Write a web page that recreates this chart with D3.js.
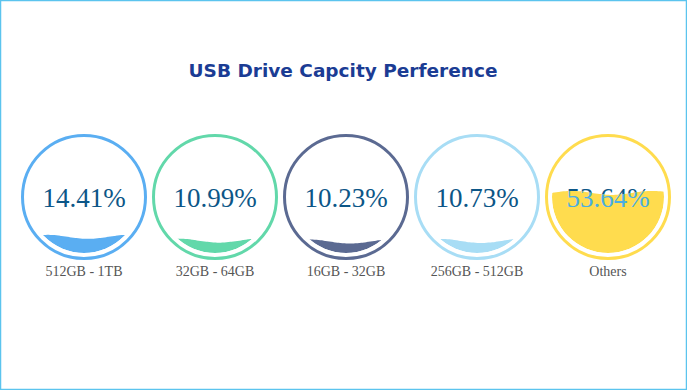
<!DOCTYPE html>
<html>
<head>
<meta charset="utf-8">
<script src="https://cdn.jsdelivr.net/npm/d3@7"></script>
<style>
  body { margin: 0; background: #fff; }
  svg { display: block; }
</style>
</head>
<body>
<div id="chart"></div>
<script>
// data
const categories = ["512GB - 1TB", "32GB - 64GB", "16GB - 32GB", "256GB - 512GB", "Others"];
const percents = [14.41, 10.99, 10.23, 10.73, 53.64];
const colors = ["#5aaef2", "#62d8aa", "#5b6a92", "#a8ddf5", "#ffdc4e"];

const W = 687, H = 390;
const svg = d3.select("#chart").append("svg").attr("width", W).attr("height", H);

// outer frame
svg.append("rect")
  .attr("x", 0.5).attr("y", 0.5)
  .attr("width", W - 1).attr("height", H - 1)
  .attr("fill", "#fff").attr("stroke", "#5bc4ee").attr("stroke-width", 1.5);

svg.append("text")
  .attr("x", 343).attr("y", 77)
  .attr("text-anchor", "middle")
  .style("font-family", "'DejaVu Sans', Verdana, sans-serif")
  .style("font-weight", "bold")
  .style("font-size", "18.5px")
  .attr("fill", "#1b3c94")
  .text("USB Drive Capcity Perference");

// gauge positions
const x = d3.scalePoint().domain(categories).range([84, 608]);
const cy = 197;
const outerR = 63, ringW = 3, fillR = 56;
const amp = 2;

// level scale: percent -> y offset in gauge (relative to centre)
const level = d3.scaleLinear().domain([0, 100]).range([fillR, -fillR]);
const waveX = d3.scaleLinear().domain([0, 1]).range([-fillR - 4, fillR + 4]);

const defs = svg.append("defs");

categories.forEach(function (c, i) {
  const g = svg.append("g").attr("transform", `translate(${x(c)}, ${cy})`);
  const col = colors[i];

  g.append("circle")
    .attr("r", outerR - ringW / 2)
    .attr("fill", "none")
    .attr("stroke", col)
    .attr("stroke-width", ringW);

  // wave points
  const pts = d3.range(0, 61).map((k) => k / 60);
  const yl = level(percents[i]);
  const area = d3.area()
    .x((d) => waveX(d))
    .y0(fillR + 5)
    .y1((d) => yl - amp * Math.sin(2 * Math.PI * (d * 1.5 - 0.05)))
    .curve(d3.curveBasis);

  const circClip = defs.append("clipPath").attr("id", "cc" + i);
  circClip.append("circle").attr("r", fillR);

  const waveClip = defs.append("clipPath").attr("id", "wc" + i);
  waveClip.append("path").attr("d", area(pts));

  const txt = percents[i].toFixed(2) + "%";
  const textAttrs = function (t) {
    t.attr("text-anchor", "middle")
      .attr("y", 10)
      .style("font-family", "'Liberation Serif', 'Times New Roman', serif")
      .style("font-size", "27px")
      .text(txt);
  };

  g.append("text").call(textAttrs).attr("fill", "#0c5687");

  const filled = g.append("g").attr("clip-path", `url(#cc${i})`);
  const inWave = filled.append("g").attr("clip-path", `url(#wc${i})`);
  inWave.append("circle").attr("r", fillR).attr("fill", col);
  inWave.append("text").call(textAttrs).attr("fill", "#4aaee2");

  g.append("text")
    .attr("text-anchor", "middle")
    .attr("y", 79)
    .style("font-family", "'Liberation Serif', 'Times New Roman', serif")
    .style("font-size", "14px")
    .attr("fill", "#555")
    .text(c);
});
</script>
</body>
</html>
